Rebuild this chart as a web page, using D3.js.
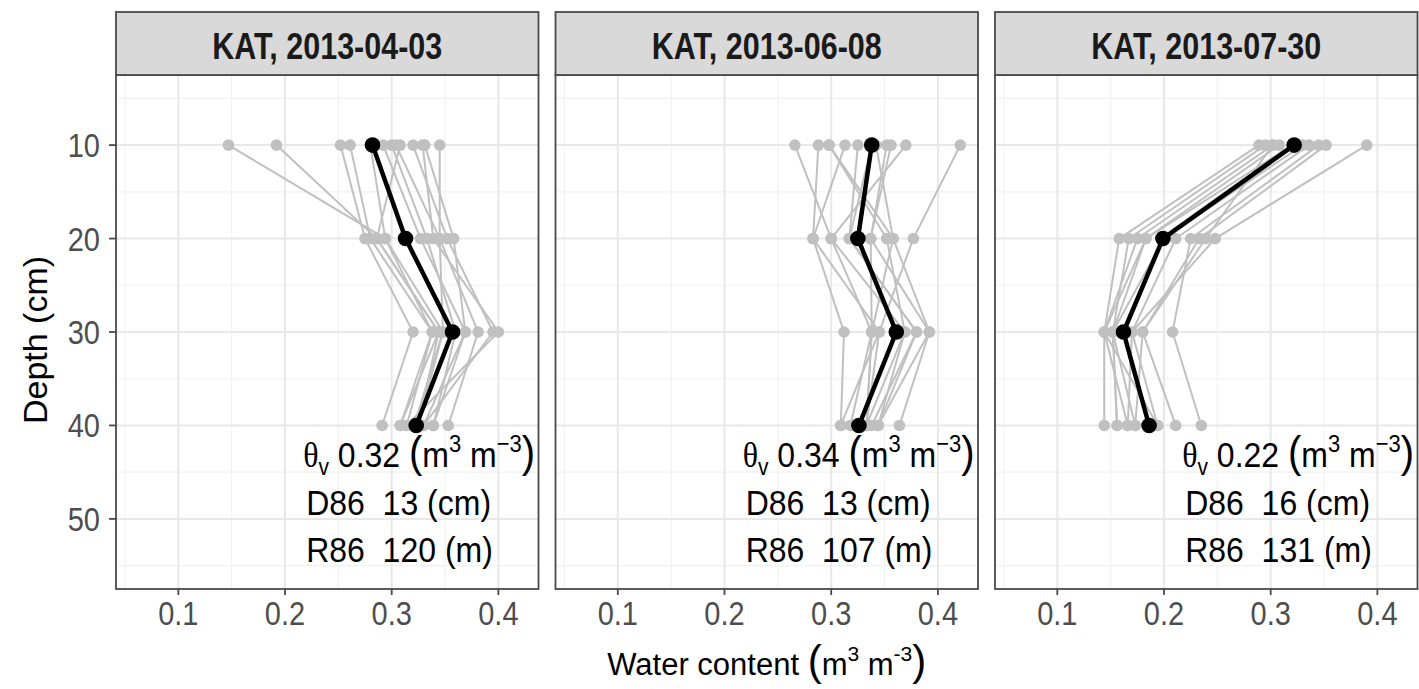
<!DOCTYPE html>
<html>
<head>
<meta charset="utf-8">
<script src="https://cdn.jsdelivr.net/npm/d3@7"></script>
<style>
  html, body { margin: 0; padding: 0; background: #ffffff; }
  svg { display: block; }
  text { font-family: "Liberation Sans", Arial, sans-serif; white-space: pre; }
</style>
</head>
<body>
<svg id="chart" width="1419" height="689"></svg>
<script>
// ---- data -------------------------------------------------------------
const depths = [10, 20, 30, 40];                       // cm
const panelTitles = ["KAT, 2013-04-03", "KAT, 2013-06-08", "KAT, 2013-07-30"];
const xTicks = [0.1, 0.2, 0.3, 0.4];
const yTicks = [10, 20, 30, 40, 50];

// individual probe profiles (water content at 10, 20, 30, 40 cm)
const profilesApr = [
  [0.147, 0.294, 0.338, 0.314],
  [0.192, 0.286, 0.344, 0.308],
  [0.252, 0.275, 0.320, 0.291],
  [0.261, 0.280, 0.338, 0.308],
  [0.280, 0.294, 0.348, 0.325],
  [0.292, 0.327, 0.369, 0.330],
  [0.300, 0.333, 0.360, 0.339],
  [0.304, 0.345, 0.381, 0.353],
  [0.320, 0.352, 0.395, 0.330],
  [0.329, 0.339, 0.400, 0.314],
  [0.331, 0.358, 0.369, 0.339],
  [0.345, 0.345, 0.348, 0.321],
  [0.308, 0.286, 0.344, 0.325]
];
const profilesJun = [
  [0.266, 0.300, 0.338, 0.333],
  [0.288, 0.283, 0.312, 0.309],
  [0.298, 0.352, 0.369, 0.344],
  [0.313, 0.283, 0.345, 0.333],
  [0.325, 0.317, 0.380, 0.344],
  [0.342, 0.358, 0.338, 0.318],
  [0.352, 0.337, 0.392, 0.364],
  [0.370, 0.300, 0.369, 0.333],
  [0.421, 0.377, 0.345, 0.309],
  [0.338, 0.317, 0.380, 0.338],
  [0.356, 0.337, 0.338, 0.333],
  [0.298, 0.358, 0.392, 0.344]
];
const profilesJul = [
  [0.289, 0.158, 0.144, 0.144],
  [0.295, 0.167, 0.152, 0.156],
  [0.302, 0.175, 0.144, 0.166],
  [0.308, 0.183, 0.152, 0.173],
  [0.336, 0.211, 0.170, 0.194],
  [0.345, 0.225, 0.208, 0.235],
  [0.352, 0.233, 0.180, 0.211],
  [0.390, 0.248, 0.170, 0.166],
  [0.302, 0.239, 0.180, 0.173],
  [0.320, 0.183, 0.144, 0.194],
  [0.330, 0.200, 0.152, 0.156]
];

// site-average profiles
const meanApr = [0.282, 0.313, 0.357, 0.323];
const meanJun = [0.338, 0.325, 0.361, 0.326];
const meanJul = [0.322, 0.199, 0.162, 0.186];

// summary statistics per date
const thetaV = ["0.32", "0.34", "0.22"];
const d86 = [13, 13, 16];
const r86 = [120, 107, 131];

const panels = [
  { title: panelTitles[0], profiles: profilesApr, mean: meanApr, theta: thetaV[0], d: d86[0], r: r86[0] },
  { title: panelTitles[1], profiles: profilesJun, mean: meanJun, theta: thetaV[1], d: d86[1], r: r86[1] },
  { title: panelTitles[2], profiles: profilesJul, mean: meanJul, theta: thetaV[2], d: d86[2], r: r86[2] }
];

// ---- layout -----------------------------------------------------------
const svg = d3.select("#chart");
const panelLefts = [116, 555.5, 995];
const panelW = 422.5;
const stripTop = 12, panelTop = 75, panelBottom = 589;
const panelH = panelBottom - panelTop;

const x = d3.scaleLinear().domain([0.0416, 0.4376]).range([0, panelW]);
const y = d3.scaleLinear().domain([2.5, 57.5]).range([0, panelH]);

const grey = "#c0c0c0";
const frame = "#4a4a4a";
const tickCol = "#4d4d4d";

const line = d3.line().x(d => x(d[0])).y(d => y(d[1]));

panels.forEach((p, i) => {
  const g = svg.append("g").attr("transform", `translate(${panelLefts[i]},${panelTop})`);

  // grid
  const minorX = d3.range(0.05, 0.45, 0.1).filter(v => v > x.domain()[0] && v < x.domain()[1]);
  const minorY = d3.range(5, 60, 10).filter(v => v > y.domain()[0] && v < y.domain()[1]);
  g.selectAll(".gxm").data(minorX).join("line")
    .attr("x1", d => x(d)).attr("x2", d => x(d)).attr("y1", 0).attr("y2", panelH)
    .attr("stroke", "#f2f2f2").attr("stroke-width", 1.2);
  g.selectAll(".gym").data(minorY).join("line")
    .attr("y1", d => y(d)).attr("y2", d => y(d)).attr("x1", 0).attr("x2", panelW)
    .attr("stroke", "#f2f2f2").attr("stroke-width", 1.2);
  g.selectAll(".gx").data(xTicks).join("line")
    .attr("x1", d => x(d)).attr("x2", d => x(d)).attr("y1", 0).attr("y2", panelH)
    .attr("stroke", "#e8e8e8").attr("stroke-width", 2);
  g.selectAll(".gy").data(yTicks).join("line")
    .attr("y1", d => y(d)).attr("y2", d => y(d)).attr("x1", 0).attr("x2", panelW)
    .attr("stroke", "#e8e8e8").attr("stroke-width", 2);

  // individual profiles
  p.profiles.forEach(prof => {
    const pts = prof.map((v, k) => [v, depths[k]]);
    g.append("path").attr("d", line(pts)).attr("fill", "none")
      .attr("stroke", grey).attr("stroke-width", 2);
  });
  p.profiles.forEach(prof => {
    g.selectAll(null).data(prof.map((v, k) => [v, depths[k]])).join("circle")
      .attr("cx", d => x(d[0])).attr("cy", d => y(d[1])).attr("r", 5.8).attr("fill", grey);
  });

  // mean profile
  const mpts = p.mean.map((v, k) => [v, depths[k]]);
  g.append("path").attr("d", line(mpts)).attr("fill", "none")
    .attr("stroke", "#000").attr("stroke-width", 4.5).attr("stroke-linejoin", "round");
  g.selectAll(null).data(mpts).join("circle")
    .attr("cx", d => x(d[0])).attr("cy", d => y(d[1])).attr("r", 7.8).attr("fill", "#000");

  // statistics text
  const ax = x(0.217);
  const t1 = g.append("text").attr("transform", `translate(${ax},${y(44.45)}) scale(1,1.12)`)
    .attr("font-size", 32).attr("fill", "#000");
  t1.append("tspan").attr("font-family", "Liberation Serif, DejaVu Serif, serif").text("θ");
  t1.append("tspan").attr("font-size", 21).attr("dy", 7).text("v");
  t1.append("tspan").attr("dy", -7).text(" " + p.theta + " ");
  t1.append("tspan").attr("font-size", 40).text("(");
  t1.append("tspan").text("m");
  t1.append("tspan").attr("font-size", 22).attr("dy", -13).text("3");
  t1.append("tspan").attr("dy", 13).text(" m");
  t1.append("tspan").attr("font-size", 22).attr("dy", -13).text("−3");
  t1.append("tspan").attr("font-size", 40).attr("dy", 13).text(")");

  g.append("text").attr("transform", `translate(${ax + 3},${y(49.55)}) scale(1,1.12)`)
    .attr("font-size", 32).attr("fill", "#000").text(`D86  ${p.d} (cm)`);
  g.append("text").attr("transform", `translate(${ax + 3},${y(54.6)}) scale(1,1.12)`)
    .attr("font-size", 32).attr("fill", "#000").text(`R86  ${p.r} (m)`);

  // panel border
  g.append("rect").attr("x", 0).attr("y", 0).attr("width", panelW).attr("height", panelH)
    .attr("fill", "none").attr("stroke", frame).attr("stroke-width", 1.8);

  // strip
  const s = svg.append("g").attr("transform", `translate(${panelLefts[i]},${stripTop})`);
  s.append("rect").attr("width", panelW).attr("height", panelTop - stripTop)
    .attr("fill", "#d9d9d9").attr("stroke", frame).attr("stroke-width", 1.8);
  s.append("text").attr("transform", `translate(${panelW / 2},${46.5}) scale(1,1.22)`)
    .attr("text-anchor", "middle").attr("font-size", 30.5).attr("font-weight", "bold")
    .attr("fill", "#1a1a1a").text(p.title);

  // x axis
  const xa = svg.append("g").attr("transform", `translate(${panelLefts[i]},${panelBottom})`);
  xa.selectAll("line").data(xTicks).join("line")
    .attr("x1", d => x(d)).attr("x2", d => x(d)).attr("y1", 0).attr("y2", 6)
    .attr("stroke", frame).attr("stroke-width", 1.8);
  xa.selectAll("text").data(xTicks).join("text")
    .attr("transform", d => `translate(${x(d)},${36}) scale(1,1.14)`)
    .attr("text-anchor", "middle").attr("font-size", 29).attr("fill", tickCol)
    .text(d => d3.format(".1f")(d));
});

// y axis (left panel only)
const ya = svg.append("g").attr("transform", `translate(${panelLefts[0]},${panelTop})`);
ya.selectAll("line").data(yTicks).join("line")
  .attr("x1", -7).attr("x2", 0).attr("y1", d => y(d)).attr("y2", d => y(d))
  .attr("stroke", frame).attr("stroke-width", 1.8);
ya.selectAll("text").data(yTicks).join("text")
  .attr("transform", d => `translate(${-16},${y(d) + 12}) scale(1,1.14)`)
  .attr("text-anchor", "end").attr("font-size", 29).attr("fill", tickCol)
  .text(d => d);

// axis titles
svg.append("text").attr("transform", "translate(47,340) rotate(-90)")
  .attr("text-anchor", "middle").attr("font-size", 34).attr("fill", "#000").text("Depth (cm)");

const xt = svg.append("text").attr("transform", `translate(${(panelLefts[0] + panelLefts[2] + panelW) / 2},675)`)
  .attr("text-anchor", "middle").attr("font-size", 31).attr("fill", "#000");
xt.append("tspan").text("Water content ");
xt.append("tspan").attr("font-size", 42).text("(");
xt.append("tspan").text("m");
xt.append("tspan").attr("font-size", 21).attr("dy", -14).text("3");
xt.append("tspan").attr("dy", 14).text(" m");
xt.append("tspan").attr("font-size", 21).attr("dy", -14).text("-3");
xt.append("tspan").attr("font-size", 42).attr("dy", 14).text(")");
</script>
</body>
</html>
